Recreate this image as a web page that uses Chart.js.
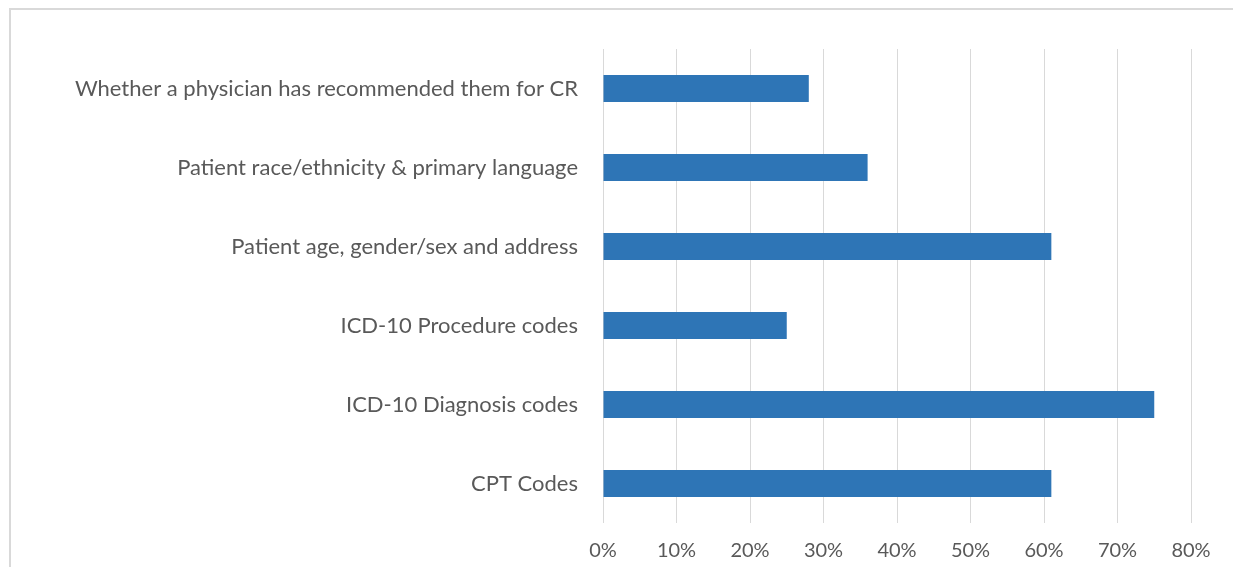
<!DOCTYPE html>
<html lang="en">
<head>
    <meta charset="UTF-8">
    <title>CR data elements</title>
    <script src="https://cdn.jsdelivr.net/npm/chart.js"></script>
    <style>
        html, body { margin: 0; padding: 0; background: #fff; overflow: hidden; }
        #frame {
            position: absolute; left: 9px; top: 8px;
            width: 1260px; height: 600px;
            border: 2px solid #d9d9d9;
        }
        #wrap { position: absolute; left: 0; top: 0; width: 1233px; height: 567px; }
    </style>
</head>
<body>
    <div id="frame"></div>
    <div id="wrap">
        <canvas id="barChart"></canvas>
    </div>

    <script>
        // categories, top to bottom
        var categories = [
            'Whether a physician has recommended them for CR',
            'Patient race/ethnicity & primary language',
            'Patient age, gender/sex and address',
            'ICD-10 Procedure codes',
            'ICD-10 Diagnosis codes',
            'CPT Codes'
        ];
        // share of respondents (%)
        var values = [28, 36, 61, 25, 75, 61];
        var xTicks = [0, 10, 20, 30, 40, 50, 60, 70, 80];

        var textColor = '#595959';
        var fontFamily = 'Lato, "Open Sans", sans-serif';

        var ctx = document.getElementById('barChart').getContext('2d');
        window.myChart = new Chart(ctx, {
            type: 'bar',
            data: {
                labels: categories,
                datasets: [{
                    label: 'Share',
                    data: values,
                    backgroundColor: '#2e75b6',
                    borderWidth: 0,
                    barPercentage: 0.34,
                    categoryPercentage: 1.0
                }]
            },
            options: {
                indexAxis: 'y',
                responsive: true,
                maintainAspectRatio: false,
                animation: false,
                layout: {
                    padding: { left: 0, right: 42, top: 49, bottom: 0 }
                },
                scales: {
                    x: {
                        min: 0,
                        max: 80,
                        afterBuildTicks: function (scale) {
                            scale.ticks = xTicks.map(function (v) { return { value: v }; });
                        },
                        afterFit: function (scale) { scale.height = 44; },
                        grid: { color: '#d9d9d9', lineWidth: 1, drawTicks: false },
                        border: { display: false },
                        ticks: {
                            padding: 16,
                            color: textColor,
                            font: { family: fontFamily, size: 20 },
                            callback: function (v) { return v + '%'; }
                        }
                    },
                    y: {
                        afterFit: function (scale) { scale.width = 603; },
                        grid: { display: false },
                        border: { display: false },
                        ticks: {
                            padding: 17,
                            color: textColor,
                            font: { family: fontFamily, size: 22 }
                        }
                    }
                },
                plugins: {
                    legend: { display: false },
                    tooltip: { enabled: false }
                }
            }
        });
    </script>
</body>
</html>
